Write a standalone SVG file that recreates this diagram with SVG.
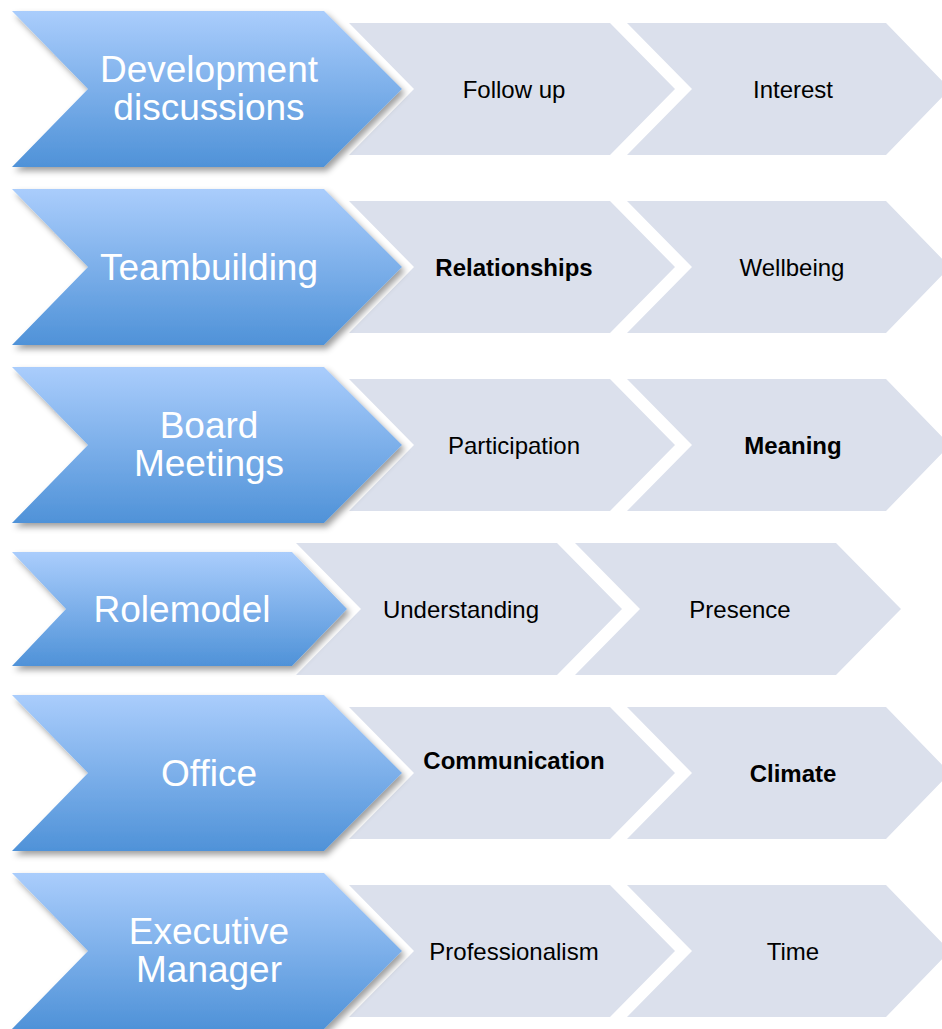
<svg xmlns="http://www.w3.org/2000/svg" xmlns:xlink="http://www.w3.org/1999/xlink" width="942" height="1029" viewBox="0 0 942 1029">
  <defs>
    <linearGradient id="blueFill" x1="0" y1="0" x2="0" y2="1">
      <stop offset="0" stop-color="#aacdfc"/>
      <stop offset="1" stop-color="#4f92d8"/>
    </linearGradient>
    <filter id="dropShadow" x="-10%" y="-10%" width="125%" height="130%">
      <feDropShadow dx="3" dy="4" stdDeviation="3" flood-color="#000" flood-opacity="0.38"/>
    </filter>
    <!-- shapes drawn around a row centre at y=0 -->
    <path id="bigChevron" d="M12,-78 L324,-78 L402,0 L324,78 L12,78 L88,0 Z"/>
    <path id="smallChevron" d="M12,-57 L292,-57 L347,0 L292,57 L12,57 L66,0 Z"/>
    <path id="stepChevron" d="M0,-66 L261,-66 L326,0 L261,66 L0,66 L65,0 Z"/>
    <path id="lastChevron" d="M0,-66 L259,-66 L323,0 L259,66 L0,66 L65,0 Z"/>
  </defs>
  <style>
    .step { fill: #dbe0ec; }
    .head { fill: url(#blueFill); filter: url(#dropShadow); }
    .headText { font-family: "Liberation Sans", Arial, sans-serif; font-size: 37px; fill: #ffffff; text-anchor: middle; }
    .stepText { font-family: "Liberation Sans", Arial, sans-serif; font-size: 24px; fill: #000000; text-anchor: middle; }
    .bold { font-weight: bold; }
  </style>
  <rect width="942" height="1029" fill="#ffffff"/>

  <g id="connectors"/>

  <!-- Row 1 -->
  <g id="row-development">
    <use xlink:href="#stepChevron" class="step" transform="translate(349,89)"/>
    <use xlink:href="#lastChevron" class="step" transform="translate(627,89)"/>
    <g id="node-development">
      <use xlink:href="#bigChevron" class="head" transform="translate(0,89)"/>
      <text class="headText" x="209" y="82">Development</text>
      <text class="headText" x="209" y="120">discussions</text>
    </g>
    <text id="node-follow-up" class="stepText" x="514" y="98">Follow up</text>
    <text id="node-interest" class="stepText" x="793" y="98">Interest</text>
  </g>

  <!-- Row 2 -->
  <g id="row-teambuilding">
    <use xlink:href="#stepChevron" class="step" transform="translate(349,267)"/>
    <use xlink:href="#lastChevron" class="step" transform="translate(627,267)"/>
    <g id="node-teambuilding">
      <use xlink:href="#bigChevron" class="head" transform="translate(0,267)"/>
      <text class="headText" x="209" y="280">Teambuilding</text>
    </g>
    <text id="node-relationships" class="stepText bold" x="514" y="276">Relationships</text>
    <text id="node-wellbeing" class="stepText" x="792" y="276">Wellbeing</text>
  </g>

  <!-- Row 3 -->
  <g id="row-board-meetings">
    <use xlink:href="#stepChevron" class="step" transform="translate(349,445)"/>
    <use xlink:href="#lastChevron" class="step" transform="translate(627,445)"/>
    <g id="node-board-meetings">
      <use xlink:href="#bigChevron" class="head" transform="translate(0,445)"/>
      <text class="headText" x="209" y="438">Board</text>
      <text class="headText" x="209" y="476">Meetings</text>
    </g>
    <text id="node-participation" class="stepText" x="514" y="454">Participation</text>
    <text id="node-meaning" class="stepText bold" x="793" y="454">Meaning</text>
  </g>

  <!-- Row 4 -->
  <g id="row-rolemodel">
    <use xlink:href="#stepChevron" class="step" transform="translate(296,609)"/>
    <use xlink:href="#stepChevron" class="step" transform="translate(575,609)"/>
    <g id="node-rolemodel">
      <use xlink:href="#smallChevron" class="head" transform="translate(0,609)"/>
      <text class="headText" x="182" y="622">Rolemodel</text>
    </g>
    <text id="node-understanding" class="stepText" x="461" y="618">Understanding</text>
    <text id="node-presence" class="stepText" x="740" y="618">Presence</text>
  </g>

  <!-- Row 5 -->
  <g id="row-office">
    <use xlink:href="#stepChevron" class="step" transform="translate(349,773)"/>
    <use xlink:href="#lastChevron" class="step" transform="translate(627,773)"/>
    <g id="node-office">
      <use xlink:href="#bigChevron" class="head" transform="translate(0,773)"/>
      <text class="headText" x="209" y="786">Office</text>
    </g>
    <text id="node-communication" class="stepText bold" x="514" y="769">Communication</text>
    <text id="node-climate" class="stepText bold" x="793" y="782">Climate</text>
  </g>

  <!-- Row 6 -->
  <g id="row-executive-manager">
    <use xlink:href="#stepChevron" class="step" transform="translate(349,951)"/>
    <use xlink:href="#lastChevron" class="step" transform="translate(627,951)"/>
    <g id="node-executive-manager">
      <use xlink:href="#bigChevron" class="head" transform="translate(0,951)"/>
      <text class="headText" x="209" y="944">Executive</text>
      <text class="headText" x="209" y="982">Manager</text>
    </g>
    <text id="node-professionalism" class="stepText" x="514" y="960">Professionalism</text>
    <text id="node-time" class="stepText" x="793" y="960">Time</text>
  </g>
</svg>
